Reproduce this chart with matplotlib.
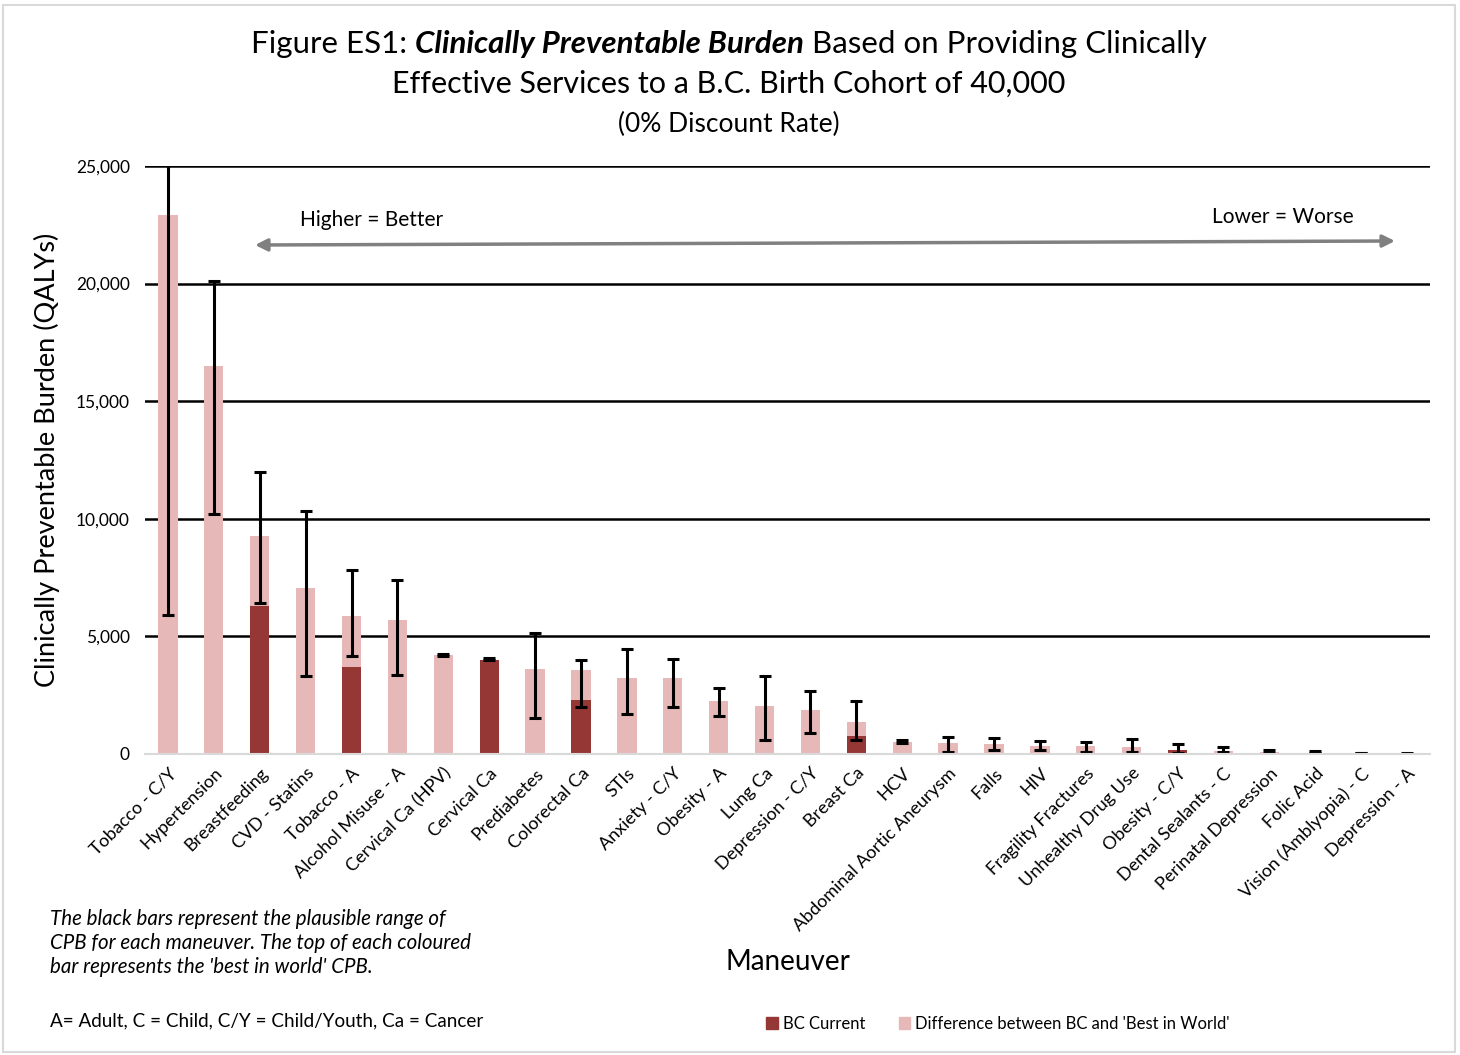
import numpy as np
import matplotlib
matplotlib.use("Agg")
import matplotlib.pyplot as plt
from matplotlib.patches import Patch, Rectangle
from matplotlib.ticker import FuncFormatter

plt.rcParams['font.family'] = ['Lato', 'DejaVu Sans']

maneuvers = ['Tobacco - C/Y', 'Hypertension', 'Breastfeeding', 'CVD - Statins',
             'Tobacco - A', 'Alcohol Misuse - A', 'Cervical Ca (HPV)', 'Cervical Ca',
             'Prediabetes', 'Colorectal Ca', 'STIs', 'Anxiety - C/Y', 'Obesity - A',
             'Lung Ca', 'Depression - C/Y', 'Breast Ca', 'HCV',
             'Abdominal Aortic Aneurysm', 'Falls', 'HIV', 'Fragility Fractures',
             'Unhealthy Drug Use', 'Obesity - C/Y', 'Dental Sealants - C',
             'Perinatal Depression', 'Folic Acid', 'Vision (Amblyopia) - C',
             'Depression - A']

# QALYs currently achieved in BC and the 'best in world' level
bc_current = [0, 0, 6300, 0, 3700, 0, 0, 4000, 0, 2300, 0, 0, 0, 0, 0, 780,
              0, 0, 0, 0, 0, 0, 190, 0, 0, 0, 0, 0]
best_world = [22900, 16500, 9270, 7060, 5870, 5700, 4200, 4000, 3630, 3590, 3250,
              3220, 2240, 2040, 1860, 1350, 520, 480, 440, 350, 330, 300, 190,
              130, 85, 60, 30, 20]
# plausible range (black bars)
range_low = [5900, 10200, 6420, 3320, 4170, 3360, 4150, 4000, 1520, 2010, 1690,
             2000, 1620, 600, 890, 600, 450, 100, 160, 170, 100, 70, 55, 70,
             60, 30, 25, 10]
range_high = [26000, 20100, 11990, 10330, 7820, 7400, 4250, 4100, 5160, 4000, 4450,
              4040, 2820, 3320, 2670, 2270, 600, 740, 690, 540, 520, 640, 440, 310,
              160, 130, 50, 30]

dark = '#953735'
pink = '#E6B9B8'

W, H = 1460, 1055
fig = plt.figure(figsize=(W / 100, H / 100), dpi=100)
ax = fig.add_axes([145 / W, 1 - 754 / H, 1285 / W, 588 / H])

x = np.arange(len(maneuvers))
cur = np.array(bc_current)
best = np.array(best_world)
lo = np.array(range_low)
hi = np.array(range_high)

w = 0.42
ax.bar(x, cur, w, color=dark, label='BC Current', zorder=3)
ax.bar(x, best - cur, w, bottom=cur, color=pink,
       label="Difference between BC and 'Best in World'", zorder=3)

mid = (lo + hi) / 2
ax.errorbar(x, mid, yerr=(hi - lo) / 2, fmt='none', ecolor='black',
            elinewidth=2.2, capsize=4, capthick=2.2, zorder=4)

ax.set_xlim(-0.5, len(maneuvers) - 0.5)
ax.set_ylim(0, 25000)
ax.set_yticks(np.arange(0, 25001, 5000))
ax.yaxis.set_major_formatter(FuncFormatter(lambda v, p: f"{int(v):,}"))
ax.grid(axis='y', color='black', linewidth=1.8, zorder=0)
ax.set_axisbelow(True)
for s in ['top', 'right', 'left']:
    ax.spines[s].set_visible(False)
ax.spines['bottom'].set_color('#d9d9d9')
ax.spines['bottom'].set_linewidth(1.5)
ax.spines['bottom'].set_zorder(5)
ax.tick_params(axis='both', length=0)
ax.tick_params(axis='y', pad=11, labelsize=12.5)
ax.set_xticks(x)
ax.set_xticklabels(maneuvers, rotation=45, ha='right', rotation_mode='anchor',
                   fontsize=13)
ax.tick_params(axis='x', pad=8)

ax.set_ylabel('Clinically Preventable Burden (QALYs)', fontsize=19.5, labelpad=11)
fig.text(788 / W, 1 - 962 / H, 'Maneuver', fontsize=20, ha='center', va='center')

# direction arrow (figure pixels count up from the bottom)
ax.annotate('', xy=(255, H - 245), xycoords='figure pixels', xytext=(1395, H - 241),
            textcoords='figure pixels', annotation_clip=False,
            arrowprops=dict(arrowstyle='<|-|>', color='#808080', lw=2.5,
                            mutation_scale=18, shrinkA=0, shrinkB=0))
fig.text(372 / W, 1 - 220 / H, 'Higher = Better', fontsize=15,
         ha='center', va='center')
fig.text(1283 / W, 1 - 217 / H, 'Lower = Worse', fontsize=15,
         ha='center', va='center')

# title with a bold-italic phrase
fig.canvas.draw()
r = fig.canvas.get_renderer()
parts = [('Figure ES1: ', 'normal', 'normal'),
         ('Clinically Preventable Burden', 'bold', 'italic'),
         (' Based on Providing Clinically', 'normal', 'normal')]
tmp = []
for s, wgt, sty in parts:
    t = fig.text(0, 0, s, fontsize=22.5, weight=wgt, style=sty)
    tmp.append(t)
widths = [t.get_window_extent(r).width for t in tmp]
start = 729 - sum(widths) / 2
for t, wd in zip(tmp, widths):
    t.set_position((start / W, 1 - 44 / H))
    t.set_va('center')
    start += wd
fig.text(729 / W, 1 - 84 / H, 'Effective Services to a B.C. Birth Cohort of 40,000',
         fontsize=22, ha='center', va='center')
fig.text(729 / W, 1 - 124 / H, '(0% Discount Rate)', fontsize=19,
         ha='center', va='center')

# footnotes
fig.text(50 / W, 1 - 943 / H,
         "The black bars represent the plausible range of\n"
         "CPB for each maneuver. The top of each coloured\n"
         "bar represents the 'best in world' CPB.",
         fontsize=14.8, style='italic', ha='left', va='center', linespacing=1.25)
fig.text(50 / W, 1 - 1021 / H, 'A= Adult, C = Child, C/Y = Child/Youth, Ca = Cancer',
         fontsize=13.6, ha='left', va='center')

handles = [Patch(color=dark, label='BC Current'),
           Patch(color=pink, label="Difference between BC and 'Best in World'")]
fig.legend(handles=handles, loc='center', bbox_to_anchor=(998 / W, 1 - 1024 / H),
           ncol=2, frameon=False, fontsize=12, handlelength=0.7, handleheight=0.7,
           handletextpad=0.3, columnspacing=2.0)

fig.patches.append(Rectangle((3 / W, 3 / H), 1452 / W, 1047 / H,
                             transform=fig.transFigure, fill=False,
                             edgecolor='#d9d9d9', linewidth=1.5))

fig.savefig('out.png', dpi=100)
